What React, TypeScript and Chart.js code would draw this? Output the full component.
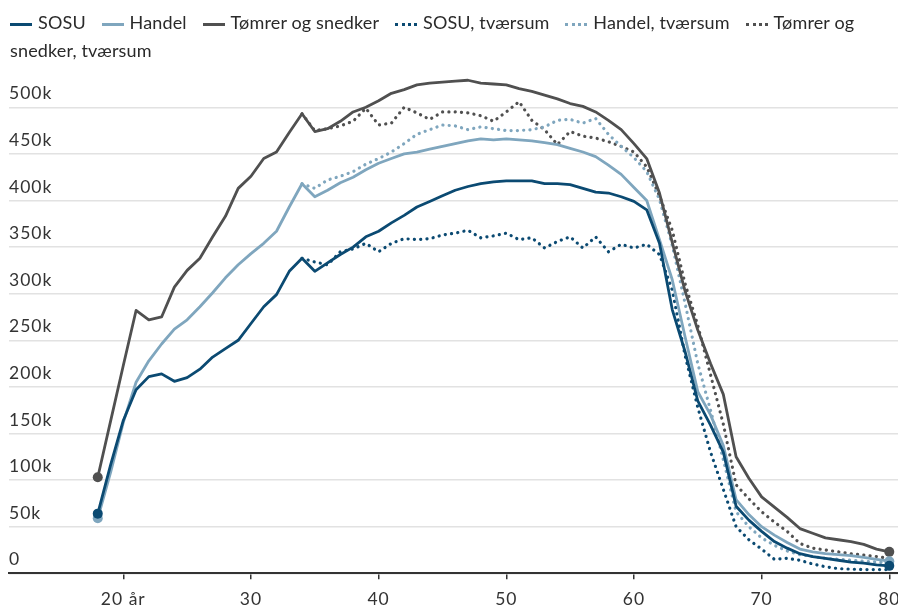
import React, { useEffect, useRef } from 'react';
import { Chart, registerables } from 'chart.js';

Chart.register(...registerables);

const FONT = 'Lato, "Open Sans", sans-serif';

// Age (år)
const ages = [
  18, 19, 20, 21, 22, 23, 24, 25, 26, 27, 28, 29, 30, 31, 32, 33, 34, 35, 36, 37, 38, 39, 40,
  41, 42, 43, 44, 45, 46, 47, 48, 49, 50, 51, 52, 53, 54, 55, 56, 57, 58, 59, 60, 61, 62, 63,
  64, 65, 66, 67, 68, 69, 70, 71, 72, 73, 74, 75, 76, 77, 78, 79, 80,
];
// Ages for the "tværsum" series (34–80)
const crossAges = [
  34, 35, 36, 37, 38, 39, 40, 41, 42, 43, 44, 45, 46, 47, 48, 49, 50, 51, 52, 53, 54, 55, 56,
  57, 58, 59, 60, 61, 62, 63, 64, 65, 66, 67, 68, 69, 70, 71, 72, 73, 74, 75, 76, 77, 78, 79, 80,
];

// Values in thousands
const sosu = [
  64, 116, 164, 197, 211, 214, 206, 210, 219, 232, 241, 250, 268, 286, 299, 324, 338, 324, 333,
  342, 350, 361, 367, 376, 384, 393, 399, 405, 411, 415, 418, 420, 421, 421, 421, 418, 418, 417,
  413, 409, 408, 404, 399, 390, 354, 283, 238, 185, 159, 130, 72, 57, 45, 34, 27, 21, 18, 16, 14,
  12, 11, 9, 8,
];
const handel = [
  59, 108, 162, 205, 228, 246, 262, 272, 286, 301, 317, 331, 343, 354, 367, 393, 418, 404, 411,
  419, 425, 433, 440, 445, 450, 452, 455, 458, 461, 464, 466, 465, 466, 465, 464, 462, 460, 456,
  452, 447, 438, 428, 414, 400, 358, 315, 254, 195, 170, 137, 79, 63, 50, 41, 33, 26, 23, 21, 20,
  19, 17, 15, 13,
];
const tomrer = [
  103, 163, 223, 282, 272, 275, 307, 325, 338, 361, 383, 413, 426, 445, 452, 473, 493, 474, 477,
  485, 495, 500, 507, 515, 519, 524, 526, 527, 528, 529, 526, 525, 524, 520, 517, 513, 509, 504,
  501, 495, 486, 476, 461, 445, 408, 355, 303, 261, 225, 192, 125, 102, 82, 71, 60, 48, 43, 38,
  36, 34, 31, 26, 23,
];
const sosuCross = [
  338, 334, 331, 345, 348, 354, 345, 354, 359, 358, 359, 363, 365, 368, 360, 362, 365, 358, 360,
  349, 356, 361, 349, 361, 345, 353, 349, 353, 342, 304, 234, 178, 130, 90, 50, 36, 26, 15, 16,
  14, 10, 7, 5, 4.5, 4, 4, 4,
];
const handelCross = [
  418, 413, 422, 426, 431, 439, 445, 452, 461, 471, 476, 481, 480, 476, 479, 477, 475, 475, 476,
  479, 486, 487, 483, 488, 471, 458, 446, 431, 401, 352, 290, 225, 175, 122, 66, 50, 38, 30, 24,
  20, 18, 16, 15, 14, 13, 12, 11,
];
const tomrerCross = [
  493, 475, 477, 480, 485, 499, 481, 483, 500, 494, 487, 495, 495, 494, 491, 485, 495, 506, 486,
  476, 460, 474, 469, 467, 463, 458, 452, 436, 405, 368, 311, 266, 213, 160, 95, 80, 66, 55, 45,
  32, 27, 25, 23, 21, 19.5, 18, 16,
];

const xTicks = [20, 30, 40, 50, 60, 70, 80];
const yTicks = [0, 50, 100, 150, 200, 250, 300, 350, 400, 450, 500];

const C_SOSU = '#0b4a72';
const C_HANDEL = '#7fa6be';
const C_TOMRER = '#505050';

const series = [
  { label: 'SOSU', color: C_SOSU, dotted: false, xs: ages, ys: sosu },
  { label: 'Handel', color: C_HANDEL, dotted: false, xs: ages, ys: handel },
  { label: 'Tømrer og snedker', color: C_TOMRER, dotted: false, xs: ages, ys: tomrer },
  { label: 'SOSU, tværsum', color: C_SOSU, dotted: true, xs: crossAges, ys: sosuCross },
  { label: 'Handel, tværsum', color: C_HANDEL, dotted: true, xs: crossAges, ys: handelCross },
  { label: 'Tømrer og snedker, tværsum', color: C_TOMRER, dotted: true, xs: crossAges, ys: tomrerCross },
];

const letterSpacingPlugin = {
  id: 'letterSpacing',
  beforeDraw(chart: any) {
    try {
      (chart.ctx as any).letterSpacing = '1px';
    } catch (e) {
      /* ignore */
    }
  },
};

// Layout geometry (pixels)
const CANVAS_W = 930;
const CANVAS_H = 552;
const CANVAS_TOP = 58;

export default function App() {
  const ref = useRef<HTMLCanvasElement>(null);

  useEffect(() => {
    if (!ref.current) return;
    Chart.defaults.font.family = FONT;
    const datasets = series.map((s) => {
      const n = s.xs.length;
      return {
        label: s.label,
        data: s.xs.map((x, i) => ({ x, y: s.ys[i] })),
        borderColor: s.color,
        backgroundColor: s.color,
        borderWidth: s.dotted ? 3.2 : 2.8,
        borderDash: s.dotted ? [0.1, 6.2] : [],
        borderCapStyle: (s.dotted ? 'round' : 'butt') as any,
        borderJoinStyle: 'round' as const,
        tension: 0,
        fill: false,
        pointRadius: (ctx: any) =>
          !s.dotted && (ctx.dataIndex === 0 || ctx.dataIndex === n - 1) ? 5 : 0,
        pointHoverRadius: 0,
        pointBorderWidth: 0,
        pointBackgroundColor: s.color,
      };
    });

    const chart = new Chart(ref.current, {
      type: 'line',
      data: { datasets },
      plugins: [letterSpacingPlugin],
      options: {
        animation: false,
        responsive: false,
        events: [],
        layout: { autoPadding: false, padding: { left: 9, top: 12, right: 0, bottom: 0 } },
        plugins: { legend: { display: false }, tooltip: { enabled: false } },
        scales: {
          x: {
            type: 'linear',
            min: 11.047,
            max: 83.19,
            afterBuildTicks: (s: any) => {
              s.ticks = xTicks.map((v) => ({ value: v }));
            },
            afterFit: (s: any) => {
              s.height = 36.7;
            },
            grid: {
              display: true,
              drawOnChartArea: false,
              drawTicks: true,
              tickLength: 6,
              color: '#333',
              lineWidth: 1.5,
            },
            border: { display: true, color: '#333', width: 2 },
            ticks: {
              autoSkip: false,
              maxRotation: 0,
              padding: 10,
              color: '#333',
              font: { family: FONT, size: 17.5 },
              callback: (v: any) => (v === 20 ? '20 år' : String(v)),
            },
          },
          y: {
            type: 'linear',
            min: 0,
            max: 540,
            afterBuildTicks: (s: any) => {
              s.ticks = yTicks.map((v) => ({ value: v }));
            },
            grid: { color: '#e2e2e2', lineWidth: 1.5, drawTicks: false },
            border: { display: false },
            ticks: {
              mirror: true,
              padding: 0,
              labelOffset: -13.5,
              color: '#333',
              font: { family: FONT, size: 17.5 },
              callback: (v: any) => (v === 0 ? '0' : v + 'k'),
            },
          },
        },
      },
    });
    return () => chart.destroy();
  }, []);

  return (
    <div
      style={{
        position: 'fixed',
        left: 0,
        top: 0,
        width: 898,
        height: 610,
        overflow: 'hidden',
        background: '#fff',
      }}
    >
      <canvas
        ref={ref}
        width={CANVAS_W}
        height={CANVAS_H}
        style={{ position: 'absolute', left: 0, top: CANVAS_TOP, width: CANVAS_W, height: CANVAS_H }}
      />
      <div
        style={{
          position: 'absolute',
          left: 10,
          top: 8,
          width: 875,
          fontFamily: FONT,
          fontSize: 18,
          letterSpacing: '0.15px',
          lineHeight: '28px',
          color: '#2a2a2a',
        }}
      >
        {series.map((s, i) => (
          <React.Fragment key={i}>
            <span style={{ marginRight: 11 }}>
              <span
                style={{
                  display: 'inline-block',
                  width: 22,
                  height: 0,
                  borderTop: `3px ${s.dotted ? 'dotted' : 'solid'} ${s.color}`,
                  verticalAlign: 'middle',
                  marginRight: 6,
                }}
              />
              {s.label}
            </span>{' '}
          </React.Fragment>
        ))}
      </div>
    </div>
  );
}
